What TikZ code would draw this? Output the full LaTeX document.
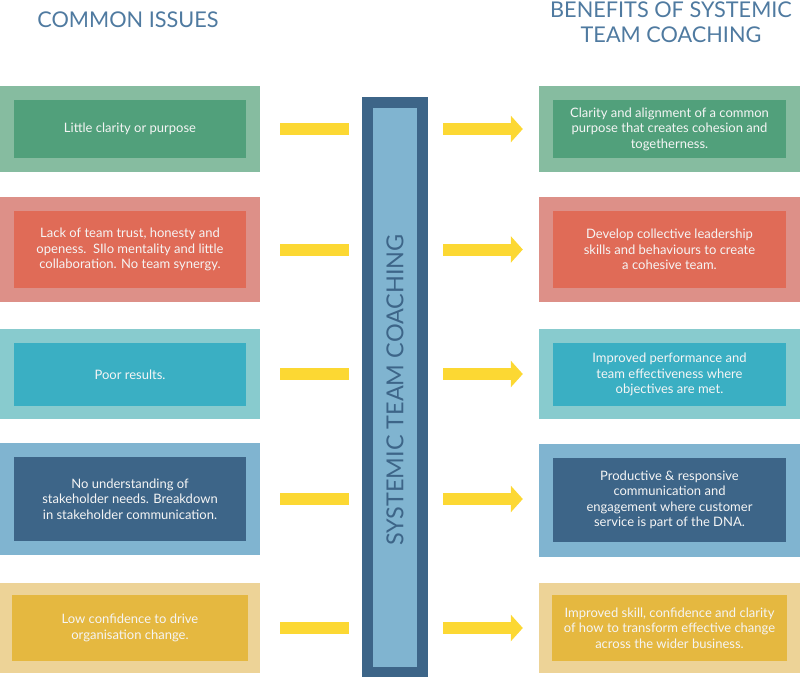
\documentclass[tikz,border=0pt]{standalone}
\usepackage{fontspec}
\setmainfont{Lato}
\usetikzlibrary{arrows.meta}

\definecolor{greenout}{HTML}{86BCA0}
\definecolor{greenin}{HTML}{51A07B}
\definecolor{redout}{HTML}{DD9088}
\definecolor{redin}{HTML}{E06B57}
\definecolor{tealout}{HTML}{88CBCE}
\definecolor{tealin}{HTML}{3AAFC3}
\definecolor{blueout}{HTML}{80B4D0}
\definecolor{bluein}{HTML}{3D6588}
\definecolor{goldout}{HTML}{EDD397}
\definecolor{goldin}{HTML}{E5B840}
\definecolor{arrowyellow}{HTML}{FCD833}
\definecolor{titleblue}{HTML}{4F7AA0}

\tikzset{
  outbox/.style={fill=#1, inner sep=0pt},
  inbox/.style={fill=#1, inner sep=0pt, align=center, text=white!96!black,
    font=\fontsize{13}{15.5}\selectfont},
  leftout/.style={outbox=#1, minimum width=260pt},
  leftin/.style={inbox=#1, minimum width=232pt},
  rightout/.style={outbox=#1, minimum width=261pt},
  rightin/.style={inbox=#1, minimum width=233pt},
  heading/.style={text=titleblue, align=center, font=\fontsize{21.7}{25}\selectfont},
  yline/.style={draw=arrowyellow, line width=12pt, shorten <=20pt, shorten >=13pt},
  yarrow/.style={draw=arrowyellow, line width=12pt, shorten <=15pt, shorten >=16pt,
    -{Triangle[width=26pt,length=12pt]}, fill=arrowyellow},
}

\begin{document}
\begin{tikzpicture}[x=1pt,y=-1pt]
  \useasboundingbox (0,0) rectangle (800,678);

  % headings
  \node[heading] (lhead) at (128,19.5) {COMMON ISSUES};
  \node[heading] (rhead) at (671,22) {BENEFITS OF SYSTEMIC\\TEAM COACHING};

  % central bar
  \node[fill=bluein, minimum width=66pt, minimum height=580pt, inner sep=0pt] (bar) at (395,387) {};
  \node[fill=blueout, minimum width=44pt, minimum height=559pt, inner sep=0pt] (barin) at (395,387.5) {};
  \node[rotate=90, text=bluein, font=\fontsize{23.4}{23.4}\selectfont] (bartext) at (395,390) {SYSTEMIC TEAM COACHING};

  % common issues
  \node[leftout=greenout, minimum height=86pt] (lo1) at (130,129) {};
  \node[leftin=greenin, minimum height=58pt] (li1) at (130,129) {Little clarity or purpose};
  \node[leftout=redout, minimum height=105pt] (lo2) at (130,249.5) {};
  \node[leftin=redin, minimum height=77pt] (li2) at (130,249.5) {Lack of team trust, honesty and\\openess.\ \ SIlo mentality and little\\collaboration. No team synergy.};
  \node[leftout=tealout, minimum height=90pt] (lo3) at (130,374) {};
  \node[leftin=tealin, minimum height=63pt] (li3) at (130,374.5) {Poor results.};
  \node[leftout=blueout, minimum height=112pt] (lo4) at (130,499) {};
  \node[leftin=bluein, minimum height=84pt] (li4) at (130,499) {No understanding of\\stakeholder needs. Breakdown\\in stakeholder communication.};
  \node[leftout=goldout, minimum height=90pt] (lo5) at (130,628) {};
  \node[leftin=goldin, minimum height=66pt, minimum width=236pt] (li5) at (130,628) {Low confidence to drive\\organisation change.};

  % benefits
  \node[rightout=greenout, minimum height=86pt] (ro1) at (669.5,129) {};
  \node[rightin=greenin, minimum height=58pt] (ri1) at (669.5,129) {Clarity and alignment of a common\\purpose that creates cohesion and\\togetherness.};
  \node[rightout=redout, minimum height=105pt] (ro2) at (669.5,249.5) {};
  \node[rightin=redin, minimum height=77pt] (ri2) at (669.5,249.5) {Develop collective leadership\\skills and behaviours to create\\a cohesive team.};
  \node[rightout=tealout, minimum height=90pt] (ro3) at (669.5,374) {};
  \node[rightin=tealin, minimum height=63pt] (ri3) at (669.5,374.5) {Improved performance and\\team effectiveness where\\objectives are met.};
  \node[rightout=blueout, minimum height=113pt] (ro4) at (669.5,500) {};
  \node[rightin=bluein, minimum height=84pt] (ri4) at (669.5,500) {Productive \& responsive\\communication and\\engagement where customer\\service is part of the DNA.};
  \node[rightout=goldout, minimum height=90pt] (ro5) at (669.5,628) {};
  \node[rightin=goldin, minimum height=66pt, minimum width=235pt] (ri5) at (669.5,628) {Improved skill, confidence and clarity\\of how to transform effective change\\across the wider business.};

  % connectors
  \foreach \i in {1,...,5}{
    \draw[yline] (lo\i.east) -- (lo\i.east -| bar.west);
    \draw[yarrow] (lo\i.east -| bar.east) -- (lo\i.east -| ro\i.west);
  }
\end{tikzpicture}
\end{document}
